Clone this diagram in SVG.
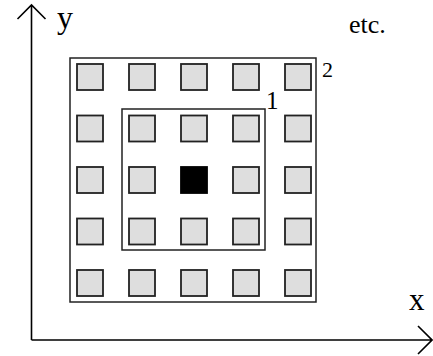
<svg xmlns="http://www.w3.org/2000/svg" width="433" height="356" viewBox="0 0 433 356">
<style>
.cell{fill:#dedede;stroke:#222;stroke-width:1.8}
.frame{fill:none;stroke:#222;stroke-width:1.5}
.axis{fill:none;stroke:#000;stroke-width:1.6}
text{font-family:'Liberation Serif','Times New Roman',serif;fill:#000}
</style>
<rect width="433" height="356" fill="#fff"/>
<g id="connectors">
<path class="axis" d="M31.5,340 V5 M17.5,19 L31.5,5 L45.5,19"/>
<path class="axis" d="M31.5,340 H432 M418,326 L432,340 L418,354"/>
</g>
<g id="frame2"><rect class="frame" x="70" y="58" width="246" height="244"/><text x="322" y="77" font-size="22">2</text></g>
<g id="frame1"><rect class="frame" x="122" y="109" width="143" height="141"/><text x="266" y="109" font-size="25">1</text></g>
<g id="cells">
<rect class="cell" x="77" y="64" width="26" height="26"/>
<rect class="cell" x="129" y="64" width="26" height="26"/>
<rect class="cell" x="181" y="64" width="26" height="26"/>
<rect class="cell" x="233" y="64" width="26" height="26"/>
<rect class="cell" x="285" y="64" width="26" height="26"/>
<rect class="cell" x="77" y="115.5" width="26" height="26"/>
<rect class="cell" x="129" y="115.5" width="26" height="26"/>
<rect class="cell" x="181" y="115.5" width="26" height="26"/>
<rect class="cell" x="233" y="115.5" width="26" height="26"/>
<rect class="cell" x="285" y="115.5" width="26" height="26"/>
<rect class="cell" x="77" y="167" width="26" height="26"/>
<rect class="cell" x="129" y="167" width="26" height="26"/>
<rect class="cell" x="181" y="167" width="26" height="26" style="fill:#000;stroke:#000"/>
<rect class="cell" x="233" y="167" width="26" height="26"/>
<rect class="cell" x="285" y="167" width="26" height="26"/>
<rect class="cell" x="77" y="218.5" width="26" height="26"/>
<rect class="cell" x="129" y="218.5" width="26" height="26"/>
<rect class="cell" x="181" y="218.5" width="26" height="26"/>
<rect class="cell" x="233" y="218.5" width="26" height="26"/>
<rect class="cell" x="285" y="218.5" width="26" height="26"/>
<rect class="cell" x="77" y="270" width="26" height="26"/>
<rect class="cell" x="129" y="270" width="26" height="26"/>
<rect class="cell" x="181" y="270" width="26" height="26"/>
<rect class="cell" x="233" y="270" width="26" height="26"/>
<rect class="cell" x="285" y="270" width="26" height="26"/>
</g>
<g id="labels">
<text x="57" y="28" font-size="32">y</text>
<text x="409" y="310" font-size="31">x</text>
<text x="349" y="33" font-size="26">etc.</text>
</g>
</svg>
